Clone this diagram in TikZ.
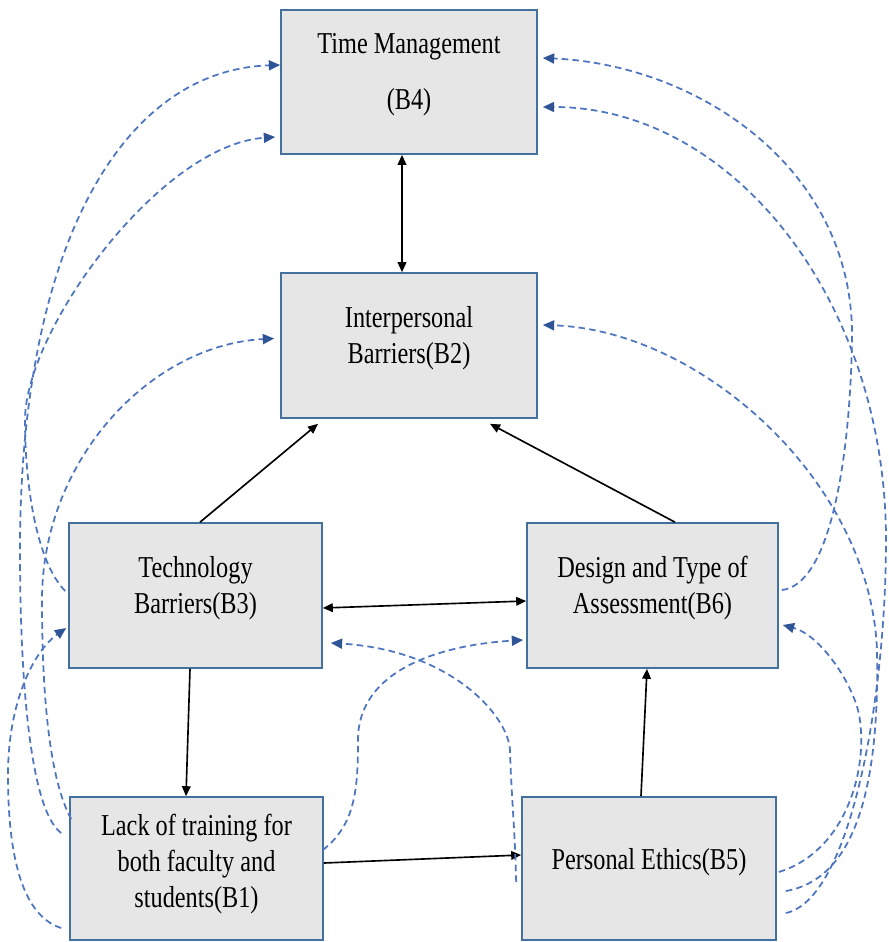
\documentclass[tikz,border=0pt]{standalone}
\usepackage{fontspec}
\setmainfont{Liberation Serif}[FakeStretch=0.8]
\usetikzlibrary{arrows.meta,calc}
\definecolor{boxfill}{RGB}{231,230,230}
\definecolor{boxedge}{RGB}{65,113,156}
\definecolor{linkblue}{RGB}{78,118,192}
\definecolor{tipblue}{RGB}{47,85,151}
\tikzset{
  box/.style={draw=boxedge, fill=boxfill, line width=1.4pt, inner sep=0pt},
  txt/.style={align=center, font=\fontsize{25.9}{30.7}\selectfont, text=black, inner sep=0pt},
  solidarrow/.style={draw=black, line width=1.4pt, -{Triangle[length=3mm,width=2.6mm]}},
  twoway/.style={draw=black, line width=1.4pt, {Triangle[length=3mm,width=2.6mm]}-{Triangle[length=3mm,width=2.6mm]}},
  dashlink/.style={draw=linkblue, line width=1.5pt, dash pattern=on 5.6pt off 3.6pt, -{Triangle[length=3.4mm,width=3mm,color=tipblue]}},
}
\begin{document}
\begin{tikzpicture}[x=0.3mm,y=-0.3mm]
\useasboundingbox (0,0) rectangle (889,942);
\fill[white] (0,0) rectangle (889,942);

% boxes
\node[box, minimum width=76.8mm, minimum height=43.2mm,
  label={[txt,yshift=2.1mm]center:{Time Management\\[17pt](B4)}}] (b4) at (409,82) {};
\node[box, minimum width=76.8mm, minimum height=43.5mm,
  label={[txt,yshift=2.2mm]center:{Interpersonal\\Barriers(B2)}}] (b2) at (409,345.5) {};
\node[box, minimum width=75.9mm, minimum height=43.5mm,
  label={[txt,yshift=2.2mm]center:{Technology\\Barriers(B3)}}] (b3) at (195.5,595.5) {};
\node[box, minimum width=75.3mm, minimum height=43.5mm,
  label={[txt,yshift=2.2mm]center:{Design and Type of\\Assessment(B6)}}] (b6) at (652.5,595.5) {};
\node[box, minimum width=75.9mm, minimum height=42.9mm,
  label={[txt,yshift=1.3mm]center:{Lack of training for\\both faculty and\\students(B1)}}] (b1) at (196.5,868.5) {};
\node[box, minimum width=76.2mm, minimum height=42.9mm,
  label={[txt,yshift=1.8mm]center:{Personal Ethics(B5)}}] (b5) at (649,868.5) {};

% solid connectors
\draw[twoway] ($(b4.south)+(-7,0)$) -- ($(b2.north)+(-7,0)$);
\draw[solidarrow] ($(b3.north)+(4.5,0)$) -- ($(b2.south)+(-91,5)$);
\draw[solidarrow] ($(b6.north)+(22.5,0)$) -- ($(b2.south)+(81,5)$);
\draw[twoway] ($(b3.east)+(0,12.5)$) -- ($(b6.west)+(0,5.5)$);
\draw[solidarrow] ($(b3.south)+(-5.5,0)$) -- ($(b1.north)+(-10.5,0)$);
\draw[solidarrow] ($(b1.east)+(0,-5.5)$) -- ($(b5.west)+(0,-13.5)$);
\draw[solidarrow] ($(b5.north)+(-8,0)$) -- ($(b6.south)+(-5.5,0)$);

% dashed connectors, left side
\draw[dashlink] ($(b1.west)+(-8,-35.5)$) .. controls (30,810) and (20,680) .. (20,550)
  .. controls (20,250) and (120,70) .. ($(b4.west)+(0,-17)$);
\draw[dashlink] ($(b3.west)+(-3,-4.5)$) .. controls (35,560) and (25,480) .. (25,420)
  .. controls (25,330) and (160,145) .. ($(b4.west)+(-5,55)$);
\draw[dashlink] ($(b1.north west)+(2,23)$) .. controls (50,780) and (42,700) .. (42,600)
  .. controls (42,460) and (150,345) .. ($(b2.west)+(-6,-7)$);
\draw[dashlink] ($(b1.west)+(-8,59.5)$) .. controls (20,915) and (8,850) .. (8,775)
  .. controls (8,700) and (35,650) .. ($(b3.west)+(-2,32.5)$);

% dashed connectors, middle
\draw[dashlink] ($(b1.east)+(-1,-18.5)$) .. controls (355,825) and (358,790) .. (358,740)
  .. controls (358,670) and (440,645) .. ($(b6.west)+(-3,44.5)$);
\draw[dashlink] ($(b5.west)+(-5,13.5)$) .. controls (515,830) and (511,790) .. (510,750)
  .. controls (508,715) and (450,650) .. ($(b3.east)+(8,47.5)$);

% dashed connectors, right side
\draw[dashlink] ($(b6.east)+(3,-5.5)$) .. controls (830,585) and (850,460) .. (852,340)
  .. controls (855,170) and (700,65) .. ($(b4.east)+(5,-24)$);
\draw[dashlink] ($(b5.east)+(9,44.5)$) .. controls (850,900) and (886,700) .. (886,540)
  .. controls (886,301) and (733,107) .. ($(b4.east)+(5,25)$);
\draw[dashlink] ($(b5.east)+(9,22.5)$) .. controls (850,880) and (880,800) .. (877,650)
  .. controls (870,480) and (700,330) .. ($(b2.east)+(5,-20.5)$);
\draw[dashlink] ($(b5.east)+(2,3.5)$) .. controls (850,850) and (870,760) .. (858,710)
  .. controls (850,680) and (820,635) .. ($(b6.east)+(4,29.5)$);
\end{tikzpicture}
\end{document}
